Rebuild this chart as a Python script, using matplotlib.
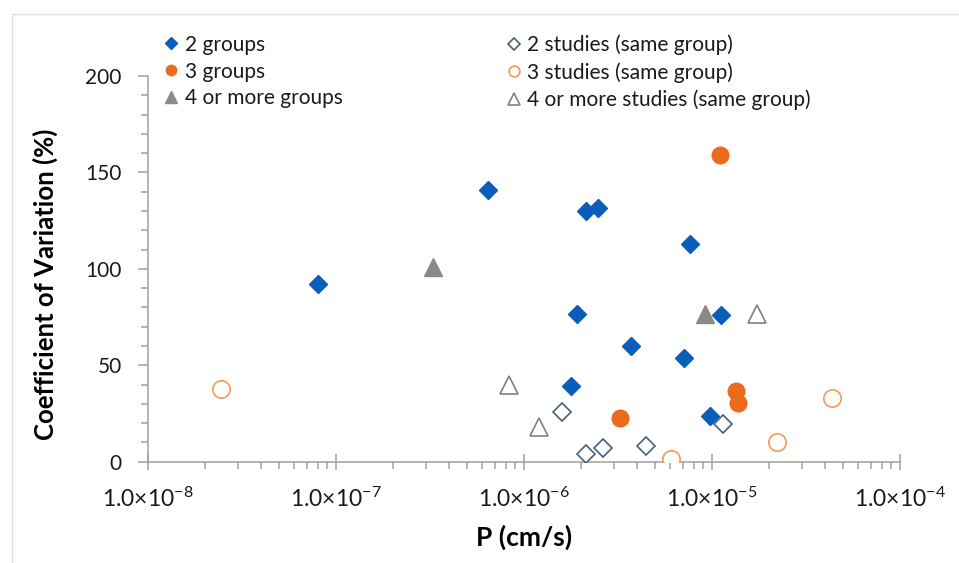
import numpy as np
import matplotlib
matplotlib.use("Agg")
import matplotlib.pyplot as plt
from matplotlib.lines import Line2D
from matplotlib.patches import Rectangle

plt.rcParams['font.family'] = ['Lato', 'DejaVu Sans']
plt.rcParams['mathtext.fontset'] = 'custom'
plt.rcParams['mathtext.rm'] = 'Lato'

# 2 groups (filled diamonds)
p_2g = [7.98e-8, 6.44e-7, 2.13e-6, 2.47e-6, 7.6e-6, 1.91e-6, 3.70e-6, 7.06e-6, 1.11e-5, 1.77e-6, 9.7e-6]
cv_2g = [92, 141, 130, 131.5, 113, 76.5, 60, 54, 76, 39.5, 23.5]
# 3 groups (filled circles)
p_3g = [1.10e-5, 1.34e-5, 1.38e-5, 3.23e-6]
cv_3g = [159, 36.5, 30.5, 22.5]
# 4 or more groups (filled triangles)
p_4g = [3.29e-7, 9.2e-6]
cv_4g = [101, 76.5]
# 2 studies, same group (open diamonds)
p_2s = [1.60e-6, 2.14e-6, 2.64e-6, 4.48e-6, 1.15e-5]
cv_2s = [26, 4, 7, 8, 19.5]
# 3 studies, same group (open circles)
p_3s = [2.44e-8, 6.05e-6, 2.22e-5, 4.34e-5]
cv_3s = [37.5, 1.5, 10, 33]
# 4 or more studies, same group (open triangles)
p_4s = [8.3e-7, 1.20e-6, 1.73e-5]
cv_4s = [40, 18, 76.5]

xticks = [1e-8, 1e-7, 1e-6, 1e-5, 1e-4]
xlabels = [r'$\mathregular{1.0{\times}10^{-%d}}$' % k for k in [8, 7, 6, 5, 4]]
yticks = [0, 50, 100, 150, 200]

blue = '#0A5DB8'
orange = '#EC6A1C'
grey = '#8A8A8A'
axis_col = '#A0A0A0'

fig = plt.figure(figsize=(9.59, 5.63), dpi=100)
ax = fig.add_axes([0.1543, 0.1799, 0.7842, 0.6851])

ax.plot(p_2g, cv_2g, 'D', ms=9.2, color=blue, mec=blue, ls='none', label='2 groups')
ax.plot(p_3g, cv_3g, 'o', ms=12, color=orange, mec=orange, ls='none', label='3 groups')
ax.plot(p_4g, cv_4g, '^', ms=13.5, color=grey, mec=grey, ls='none', label='4 or more groups')
ax.plot(p_2s, cv_2s, 'D', ms=9.2, mfc='white', mec='#44607F', mew=1.2, ls='none',
        label='2 studies (same group)')
ax.plot(p_3s, cv_3s, 'o', ms=12.5, mfc='white', mec='#F5995A', mew=1.2, ls='none',
        label='3 studies (same group)')
ax.plot(p_4s, cv_4s, '^', ms=13.5, mfc='white', mec='#808080', mew=1.2, ls='none',
        label='4 or more studies (same group)')

ax.set_xscale('log')
ax.set_xlim(1e-8, 1e-4)
ax.set_ylim(0, 200)
ax.set_xticks(xticks)
ax.set_xticklabels(xlabels)
ax.set_yticks(yticks)
ax.set_yticks(np.arange(0, 201, 10), minor=True)

for s in ['top', 'right']:
    ax.spines[s].set_visible(False)
for s in ['left', 'bottom']:
    ax.spines[s].set_color(axis_col)
    ax.spines[s].set_linewidth(1.1)
    ax.spines[s].set_zorder(0)

ax.tick_params(axis='x', which='major', direction='inout', length=12, width=1.1, color=axis_col,
               labelsize=16.5, pad=12, labelcolor='#1a1a1a')
ax.tick_params(axis='x', which='minor', direction='out', length=5, width=1.1, color=axis_col)
ax.tick_params(axis='y', which='major', direction='out', length=7, width=1.1, color=axis_col,
               labelsize=15, pad=12, labelcolor='#1a1a1a')
ax.tick_params(axis='y', which='minor', direction='out', length=5, width=1.1, color=axis_col)

ax.set_xlabel('P (cm/s)', fontsize=19, fontweight='bold', labelpad=10)
ax.set_ylabel('Coefficient of Variation (%)', fontsize=18.5, fontweight='bold')
ax.yaxis.set_label_coords(-0.120, 0.46)

h, l = ax.get_legend_handles_labels()
hs = [Line2D([], [], marker=x.get_marker(), ls='none', mfc=x.get_mfc(), mec=x.get_mec(),
             mew=x.get_mew(), ms=x.get_ms() * 0.62) for x in h]
leg_kw = dict(loc='upper left', frameon=False, fontsize=15, handlelength=0.7,
              handletextpad=0.3, labelspacing=0.33, borderpad=0, labelcolor='#1a1a1a')
leg1 = fig.legend(hs[:3], l[:3], bbox_to_anchor=(0.160, 0.957), **leg_kw)
leg2 = fig.legend(hs[3:], l[3:], bbox_to_anchor=(0.517, 0.957), **leg_kw)

# light outer frame
fig.patches.append(Rectangle((12 / 959, -0.05), 1.0, 1 - 14 / 563 + 0.05, transform=fig.transFigure,
                             fill=False, edgecolor='#DDDDDD', lw=1.0))

fig.savefig('out.png', dpi=100)
